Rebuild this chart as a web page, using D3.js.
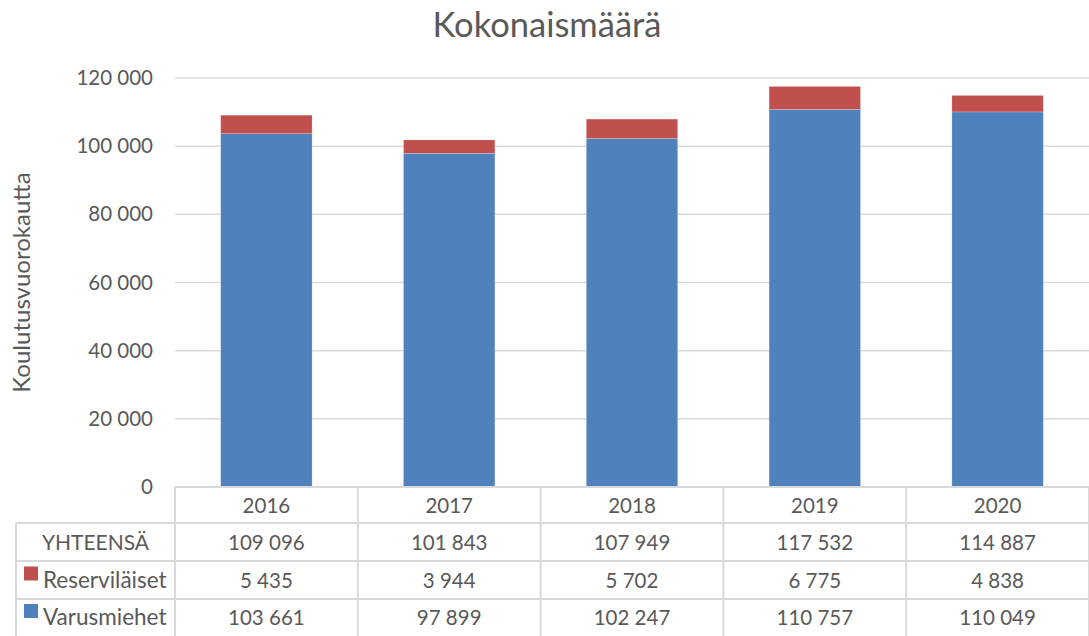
<!DOCTYPE html>
<html>
<head>
<meta charset="utf-8">
<script src="https://cdn.jsdelivr.net/npm/d3@7"></script>
<style>
  html, body { margin: 0; padding: 0; background: #fff; }
  svg { display: block; font-family: Lato, "Open Sans", sans-serif; }
</style>
</head>
<body>
<svg id="chart" width="1089" height="636"></svg>
<script>
const years = ["2016", "2017", "2018", "2019", "2020"];
const varusmiehet = [103661, 97899, 102247, 110757, 110049];
const reservilaiset = [5435, 3944, 5702, 6775, 4838];
const yTicks = [0, 20000, 40000, 60000, 80000, 100000, 120000];
const seriesNames = ["Varusmiehet", "Reserviläiset"];
const seriesColors = ["#4F81BD", "#C0504D"];

const fi = d3.formatLocale({ decimal: ",", thousands: "\u00a0", grouping: [3], currency: ["", " €"] });
const fmt = fi.format(",d");

const svg = d3.select("#chart");
const textColor = "#595959";
const lineColor = "#d9d9d9";
const numSize = 20.5, labelSize = 22.5;

const plotLeft = 175, plotRight = 1089, plotTop = 78, plotBottom = 487;
const tableLeft = 16;
const rowLines = [487, 523, 561, 599, 636];

const x = d3.scaleBand().domain(years).range([plotLeft, plotRight]).paddingInner(0.5).paddingOuter(0.25);
const y = d3.scaleLinear().domain([0, 120000]).range([plotBottom, plotTop]);

// Title
svg.append("text").attr("x", 547).attr("y", 37).attr("text-anchor", "middle")
  .attr("font-size", 34.5).attr("fill", textColor).text("Kokonaismäärä");

// Y axis title
svg.append("text").attr("transform", `translate(30,${(plotTop + plotBottom) / 2}) rotate(-90)`)
  .attr("text-anchor", "middle").attr("font-size", 24).attr("fill", textColor)
  .text("Koulutusvuorokautta");

// Gridlines and tick labels
const yAxis = d3.axisLeft(y).tickValues(yTicks).tickSize(0).tickPadding(22).tickFormat(fmt);
const gy = svg.append("g").attr("transform", `translate(${plotLeft},0)`).call(yAxis);
gy.select(".domain").remove();
gy.selectAll("text").attr("font-size", numSize).attr("fill", textColor).attr("font-family", "Lato, 'Open Sans', sans-serif");

svg.append("g").selectAll("line").data(yTicks.filter(d => d > 0)).join("line")
  .attr("x1", plotLeft).attr("x2", plotRight).attr("y1", d => y(d)).attr("y2", d => y(d))
  .attr("stroke", lineColor).attr("stroke-width", 1.5);

// Stacked bars
const rows = years.map((yr, i) => ({ year: yr, Varusmiehet: varusmiehet[i], "Reserviläiset": reservilaiset[i] }));
const stack = d3.stack().keys(seriesNames)(rows);
svg.append("g").selectAll("g").data(stack).join("g")
  .attr("fill", (d, i) => seriesColors[i])
  .selectAll("rect").data(d => d).join("rect")
  .attr("x", d => x(d.data.year))
  .attr("width", x.bandwidth())
  .attr("y", d => y(d[1]))
  .attr("height", d => y(d[0]) - y(d[1]))
  .attr("stroke", "#ffffff").attr("stroke-opacity", 0.35).attr("stroke-width", 0.6);

// Data table
const tbl = svg.append("g");
const lineAttrs = sel => sel.attr("stroke", lineColor).attr("stroke-width", 2);

// horizontal lines
tbl.append("line").attr("x1", plotLeft).attr("x2", plotRight).attr("y1", rowLines[0]).attr("y2", rowLines[0]).call(lineAttrs);
rowLines.slice(1, 4).forEach(yy => {
  tbl.append("line").attr("x1", tableLeft).attr("x2", plotRight).attr("y1", yy).attr("y2", yy).call(lineAttrs);
});
// vertical lines
const colEdges = [plotLeft].concat(years.map(yr => x(yr) + x.bandwidth() + x.step() * x.paddingInner() / 2));
colEdges.forEach(xx => {
  tbl.append("line").attr("x1", xx).attr("x2", xx).attr("y1", rowLines[0]).attr("y2", 636).call(lineAttrs);
});
tbl.append("line").attr("x1", tableLeft).attr("x2", tableLeft).attr("y1", rowLines[1]).attr("y2", 636).call(lineAttrs);

const rowMid = i => (rowLines[i] + rowLines[i + 1]) / 2 + 7.5;
const cx = yr => x(yr) + x.bandwidth() / 2;

// header row
tbl.selectAll("text.yr").data(years).join("text").attr("class", "yr")
  .attr("x", cx).attr("y", rowMid(0)).attr("text-anchor", "middle")
  .attr("font-size", numSize).attr("fill", textColor).text(d => d);

const tableRows = [
  { label: "YHTEENSÄ", values: years.map((yr, i) => varusmiehet[i] + reservilaiset[i]), color: null },
  { label: "Reserviläiset", values: reservilaiset, color: seriesColors[1] },
  { label: "Varusmiehet", values: varusmiehet, color: seriesColors[0] }
];
tableRows.forEach((r, ri) => {
  const ym = rowMid(ri + 1);
  if (r.color) {
    tbl.append("rect").attr("x", 24).attr("y", ym - 21).attr("width", 14).attr("height", 14).attr("fill", r.color);
    tbl.append("text").attr("x", 43).attr("y", ym).attr("font-size", labelSize).attr("fill", textColor).text(r.label);
  } else {
    tbl.append("text").attr("x", (tableLeft + plotLeft) / 2).attr("y", ym).attr("text-anchor", "middle")
      .attr("font-size", 21).attr("fill", textColor).text(r.label);
  }
  tbl.selectAll(null).data(r.values).join("text")
    .attr("x", (d, i) => cx(years[i])).attr("y", ym).attr("text-anchor", "middle")
    .attr("font-size", numSize).attr("fill", textColor).text(d => fmt(d));
});
</script>
</body>
</html>
